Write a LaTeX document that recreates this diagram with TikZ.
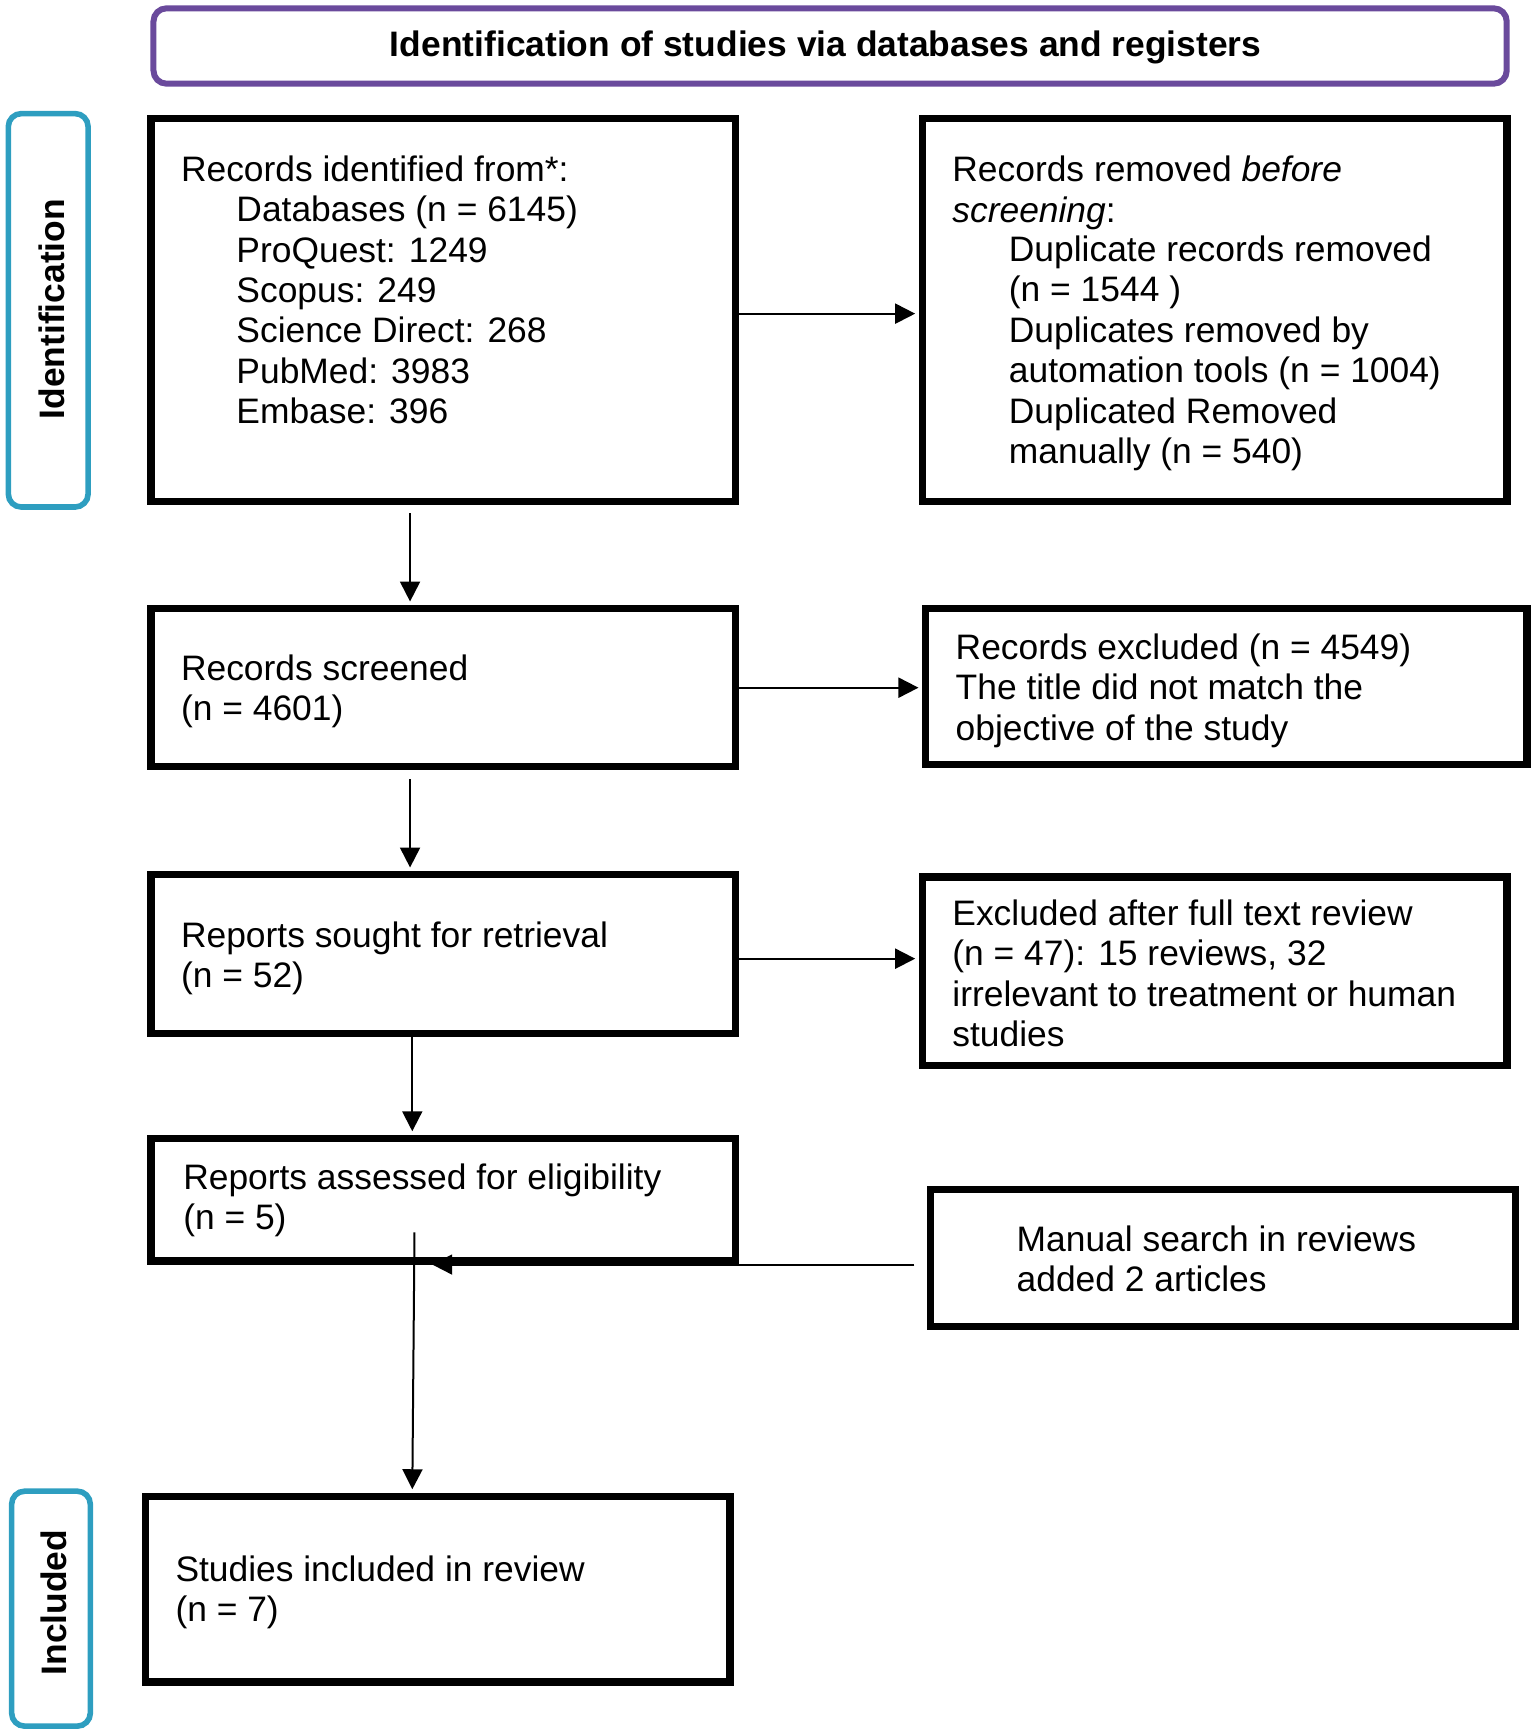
\documentclass[tikz,border=0pt]{standalone}
\usepackage{fontspec}
\setmainfont{Liberation Sans}
\usetikzlibrary{arrows.meta,calc}
\definecolor{hdrpurple}{HTML}{6A4A9C}
\definecolor{lblteal}{HTML}{2E9EC0}
\newcommand\dpx[1]{#1*0.5542pt}
\begin{document}
\begin{tikzpicture}[x=0.5542pt,y=-0.5542pt]
\tikzset{
  fbox/.style={draw=black,line width=3.6pt,inner sep=0pt},
  txt/.style={anchor=north west,inner sep=0pt,align=left,font=\fontsize{17.7pt}{20.2pt}\selectfont},
  arr/.style={line width=1pt,shorten >=1.8pt,-{Triangle[length=10pt,width=10pt]}},
  hdr/.style={draw=hdrpurple,line width=3pt,rounded corners=6.5pt,inner sep=0pt},
  lbl/.style={draw=lblteal,line width=2.8pt,rounded corners=6.5pt,inner sep=0pt},
  bold/.style={inner sep=0pt,font=\fontsize{17.7pt}{20.2pt}\selectfont\bfseries}
}
\useasboundingbox (0,0) rectangle (1385,1564.6);

% header and side labels
\node[hdr,minimum width=\dpx{1221},minimum height=\dpx{68}] (H) at (749,41.5) {};
\node[bold] (Ht) at (745,43) {Identification of studies via databases and registers};
\node[lbl,minimum width=\dpx{72},minimum height=\dpx{355}] (L1) at (43.5,280) {};
\node[bold,rotate=90] (L1t) at (46.5,279) {Identification};
\node[lbl,minimum width=\dpx{71},minimum height=\dpx{212}] (L2) at (46,1451.5) {};
\node[bold,rotate=90] (L2t) at (48.5,1446) {Included};

% boxes
\node[fbox,minimum width=\dpx{527.5},minimum height=\dpx{345.5}] (B1) at (400,280) {};
\node[fbox,minimum width=\dpx{527.5},minimum height=\dpx{345.5}] (B2) at (1096,280) {};
\node[fbox,minimum width=\dpx{527.5},minimum height=\dpx{142.5}] (B3) at (400,620.5) {};
\node[fbox,minimum width=\dpx{542.5},minimum height=\dpx{140.5}] (B4) at (1106.5,619.5) {};
\node[fbox,minimum width=\dpx{527.5},minimum height=\dpx{143.5}] (B5) at (400,861) {};
\node[fbox,minimum width=\dpx{527.5},minimum height=\dpx{170.5}] (B6) at (1096,876.5) {};
\node[fbox,minimum width=\dpx{527.5},minimum height=\dpx{110.5}] (B7) at (400,1082.5) {};
\node[fbox,minimum width=\dpx{528.5},minimum height=\dpx{123.5}] (B8) at (1103.5,1135) {};
\node[fbox,minimum width=\dpx{527.5},minimum height=\dpx{167.5}] (B9) at (395,1434) {};

% texts
\node[txt] (T1a) at (163,140.5) {Records identified from*:};
\node[txt] (T1b) at (213,176.5) {Databases (n = 6145)\\ProQuest: 1249\\Scopus: 249\\Science Direct: 268\\PubMed: 3983\\Embase: 396};
\node[txt] (T2a) at (859,140.5) {Records removed \textit{before}\\\textit{screening}:};
\node[txt] (T2b) at (910,212.5) {Duplicate records removed\\(n = 1544 )\\Duplicates removed by\\automation tools (n = 1004)\\Duplicated Removed\\manually (n = 540)};
\node[txt] (T3) at (163,590.5) {Records screened\\(n = 4601)};
\node[txt] (T4) at (862,571.5) {Records excluded (n = 4549)\\The title did not match the\\objective of the study};
\node[txt] (T5) at (163,831.5) {Reports sought for retrieval\\(n = 52)};
\node[txt] (T6) at (859,811.5) {Excluded after full text review\\(n = 47): 15 reviews, 32\\irrelevant to treatment or human\\studies};
\node[txt] (T7) at (165,1049.5) {Reports assessed for eligibility\\(n = 5)};
\node[txt] (T8) at (917,1105.5) {Manual search in reviews\\added 2 articles};
\node[txt] (T9) at (158,1403.5) {Studies included in review\\(n = 7)};

% connectors
\coordinate (a12) at ($(B1.east)+(0,3)$);
\draw[arr] (a12) -- (a12 -| B2.west);
\coordinate (a13) at (370,463);
\draw[arr] (a13) -- (a13 |- B3.north);
\draw[arr] (B3.east) -- (B3.east -| B4.west);
\coordinate (a35) at (370,703);
\draw[arr] (a35) -- (a35 |- B5.north);
\coordinate (a56) at ($(B5.east)+(0,4)$);
\draw[arr] (a56) -- (a56 -| B6.west);
\coordinate (a57) at (372,936);
\draw[arr] (a57) -- (a57 |- B7.north);
\coordinate (a87) at ($(B8.west |- B7.south)+(-11,0)$);
\coordinate (t87) at ($(B7.south)+(-10,0)$);
\draw[arr,shorten >=0pt] (a87) -- (t87);
\coordinate (s79) at (374,1112);
\coordinate (t79) at ($(B9.north)+(-23,0)$);
\draw[arr] (s79) -- (t79);
\end{tikzpicture}
\end{document}
